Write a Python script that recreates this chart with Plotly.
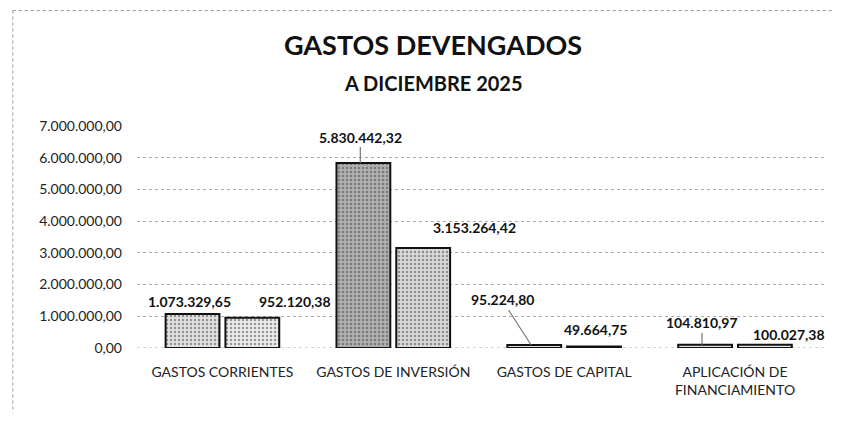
import plotly.graph_objects as go

categorias = ["GASTOS CORRIENTES", "GASTOS DE INVERSIÓN", "GASTOS DE CAPITAL", "APLICACIÓN DE<br>FINANCIAMIENTO"]
serie_a = [1073329.65, 5830442.32, 95224.80, 104810.97]
serie_b = [952120.38, 3153264.42, 49664.75, 100027.38]
y_ticks = [0, 1000000, 2000000, 3000000, 4000000, 5000000, 6000000, 7000000]


def fmt(v):
    s = f"{v:,.2f}"
    return s.replace(",", "X").replace(".", ",").replace("X", ".")


fig = go.Figure()
for vals, colors, off in [
    (serie_a, ["#e2e2e2", "#b0b0b0", "#e2e2e2", "#e2e2e2"], "a"),
    (serie_b, ["#ebebeb", "#dadada", "#ebebeb", "#ebebeb"], "b"),
]:
    fig.add_trace(go.Bar(
        x=categorias, y=vals, offsetgroup=off, showlegend=False,
        marker=dict(color=colors, line=dict(color="#111", width=2),
                    pattern=dict(shape=".", fgcolor="#777", size=4, solidity=0.3)),
    ))

# label placement (pixel offsets from bar top) and leader lines
lab_a = [(0, -12, False), (0, -26, True), (-29, -45, True), (0, -22, True)]
lab_b = [(40, -16, False), (48, -21, False), (-2, -17, False), (21, -10, False)]
for vals, labs, shift in [(serie_a, lab_a, -33), (serie_b, lab_b, 33)]:
    for cat, v, (dx, dy, lead) in zip(categorias, vals, labs):
        fig.add_annotation(
            x=cat, y=v, xref="x", yref="y", xshift=shift,
            text=f"<b>{fmt(v)}</b>", showarrow=True, arrowhead=0,
            arrowwidth=1.2, arrowcolor="#777" if lead else "rgba(0,0,0,0)",
            ax=dx, ay=dy, font=dict(size=14, color="#111", family="Lato"),
        )

fig.add_annotation(text="<b>GASTOS DEVENGADOS</b>", xref="paper", yref="paper",
                   x=0.429, y=1.365, xanchor="center", yanchor="middle", showarrow=False,
                   font=dict(size=27, color="#111", family="Lato"))
fig.add_annotation(text="<b>A DICIEMBRE 2025</b>", xref="paper", yref="paper",
                   x=0.429, y=1.194, xanchor="center", yanchor="middle", showarrow=False,
                   font=dict(size=20, color="#111", family="Lato"))

# dotted page frame (scan edge)
fig.add_shape(type="line", xref="paper", yref="paper", x0=-0.18, x1=1.03, y0=1.52, y1=1.52,
              line=dict(color="#999", width=1, dash="dot"))
fig.add_shape(type="line", xref="paper", yref="paper", x0=-0.18, x1=-0.18, y0=1.52, y1=-0.33,
              line=dict(color="#999", width=1, dash="dot"))
# dotted baseline
fig.add_shape(type="line", xref="paper", yref="y", x0=0, x1=1, y0=0, y1=0, layer="below",
              line=dict(color="#aaa", width=1, dash="dot"))

fig.update_layout(
    width=826, height=405, paper_bgcolor="white", plot_bgcolor="white",
    margin=dict(l=129, r=7, t=118, b=65),
    separators=",.",
    bargap=0.3, bargroupgap=0.1, barmode="group",
    font=dict(family="Lato", color="#222"),
)
fig.update_yaxes(range=[0, 7000000], tickvals=y_ticks, tickformat=",.2f",
                 showgrid=True, gridcolor="#aaa", griddash="dot", gridwidth=1,
                 zeroline=False, tickfont=dict(size=14, color="#222"), ticks="",
                 ticklabelstandoff=14, automargin=False)
fig.update_xaxes(showline=False, tickfont=dict(size=14, color="#222"),
                 ticks="", showgrid=False, ticklabelstandoff=14, automargin=False)
fig.write_html("out.html")
